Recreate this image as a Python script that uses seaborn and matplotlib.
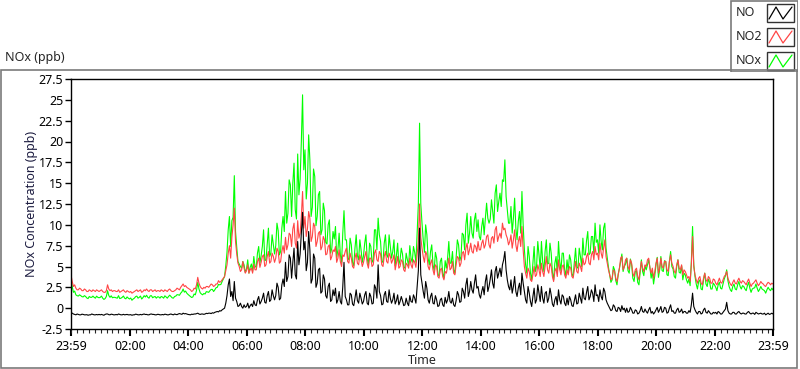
import pandas as pd
import matplotlib
matplotlib.use('Agg')
import matplotlib.pyplot as plt
import matplotlib.dates as mdates
import matplotlib.ticker as mticker
from matplotlib.patches import Rectangle
import seaborn as sns

START = '2021-03-01 23:59'
STEP = '150s'

# one row per hour (24 samples, 2.5 min apart), last value = 23:59 next day
NO = [
    -0.5, -0.6, -0.7, -0.75, -0.8, -0.7, -0.75, -0.8, -0.8, -0.72, -0.75, -0.8, -0.8, -0.78, -0.85, -0.8, -0.8, -0.7, -0.75, -0.8, -0.8, -0.76, -0.8, -0.75,
    -0.8, -0.75, -0.8, -0.85, -0.75, -0.7, -0.7, -0.78, -0.8, -0.72, -0.75, -0.8, -0.8, -0.76, -0.8, -0.7, -0.75, -0.8, -0.8, -0.74, -0.8, -0.78, -0.75, -0.8,
    -0.8, -0.78, -0.85, -0.8, -0.8, -0.72, -0.75, -0.8, -0.8, -0.75, -0.8, -0.74, -0.7, -0.76, -0.75, -0.8, -0.8, -0.72, -0.7, -0.75, -0.75, -0.8, -0.8, -0.74,
    -0.75, -0.8, -0.8, -0.76, -0.8, -0.72, -0.75, -0.8, -0.8, -0.74, -0.7, -0.76, -0.8, -0.7, -0.75, -0.78, -0.7, -0.65, -0.7, -0.74, -0.6, -0.68, -0.65, -0.7,
    -0.75, -0.78, -0.8, -0.72, -0.75, -0.7, -0.7, -0.66, -0.6, -0.7, -0.75, -0.7, -0.7, -0.74, -0.7, -0.62, -0.65, -0.6, -0.6, -0.65, -0.55, -0.6, -0.5, -0.45,
    -0.4, -0.45, -0.3, -0.35, -0.2, -0.1, 0.0, 0.6, 1.5, 2.8, 3.5, 1.4, 2.0, 0.9, 3.2, 1.2, 0.8, 0.2, 0.3, 0.6, 0.2, 0.0, 0.4, 0.1,
    0.2, 0.6, 0.0, 0.3, 0.5, 0.2, 0.9, 0.4, 0.3, 1.0, 1.4, 0.5, 0.8, 1.2, 1.8, 0.7, 0.6, 1.5, 2.0, 0.8, 1.0, 2.2, 1.5, 1.0,
    1.5, 3.0, 2.5, 1.0, 1.2, 2.8, 3.5, 2.6, 5.5, 3.2, 3.8, 6.4, 6.0, 3.6, 5.5, 7.2, 4.0, 3.5, 8.0, 5.2, 6.5, 9.0, 11.5, 7.0,
    8.0, 4.5, 5.5, 9.2, 7.0, 3.0, 3.5, 6.5, 6.0, 2.5, 3.0, 4.6, 4.8, 1.8, 2.0, 4.0, 3.5, 1.5, 1.2, 2.6, 3.0, 0.8, 1.0, 2.2,
    1.5, 2.4, 0.6, 1.0, 2.0, 0.8, 0.5, 2.6, 5.5, 1.4, 1.0, 0.4, 0.4, 1.8, 1.6, 0.5, 0.3, 1.2, 2.2, 0.9, 0.6, 1.8, 1.2, 0.5,
    0.8, 1.6, 2.0, 0.6, 0.4, 1.8, 1.4, 0.5, 0.6, 2.8, 2.4, 1.2, 5.2, 2.0, 1.5, 0.4, 0.5, 1.6, 2.0, 0.8, 0.7, 2.2, 1.2, 0.6,
    1.0, 1.8, 0.5, 0.9, 1.6, 0.4, 0.8, 1.4, 0.9, 0.3, 0.4, 1.2, 0.6, 0.3, 1.5, 0.8, 0.7, 1.6, 1.2, 0.6, 2.6, 4.5, 9.6, 4.0,
    3.0, 2.0, 1.2, 3.2, 2.4, 1.0, 0.6, 1.4, 1.8, 0.6, 0.5, 1.5, 1.0, 0.2, 0.3, 1.0, 1.2, 0.4, 0.2, 1.3, 0.6, 1.0, 2.0, 0.8,
    0.6, 1.2, 0.4, 0.2, 0.9, 2.0, 1.6, 0.7, 0.8, 2.4, 2.0, 1.2, 2.8, 3.6, 1.4, 2.0, 3.2, 2.2, 1.8, 3.0, 4.0, 2.4, 2.6, 1.6,
    1.2, 2.0, 2.6, 1.6, 3.2, 4.0, 2.0, 2.6, 3.5, 4.6, 3.0, 2.4, 4.4, 5.0, 3.6, 4.2, 4.8, 3.8, 5.2, 5.8, 6.8, 4.6, 3.4, 2.6,
    2.2, 3.4, 1.8, 2.6, 3.8, 2.0, 1.4, 2.4, 3.0, 1.6, 4.2, 3.0, 2.0, 1.0, 0.6, 2.6, 1.8, 0.8, 0.2, 1.4, 2.4, 0.6, 1.0, 2.8,
    1.8, 0.8, 2.6, 1.2, 0.6, 1.8, 2.0, 0.7, 1.2, 2.4, 1.6, 0.5, 0.2, 1.0, 1.4, 0.4, 2.2, 1.0, 0.5, 1.6, 1.4, 0.6, 0.3, 1.2,
    0.4, 1.4, 1.0, 0.3, 0.2, 0.9, 1.6, 0.5, 0.6, 1.8, 1.2, 0.6, 2.4, 1.2, 1.0, 1.9, 2.6, 1.0, 1.4, 2.2, 1.8, 0.8, 2.8, 1.5,
    1.6, 0.8, 2.2, 1.4, 1.0, 2.4, 2.0, 1.0, 0.6, 0.3, 0.0, -0.3, -0.2, 0.4, 0.2, -0.3, -0.4, 0.1, 0.0, -0.4, 0.3, -0.2, 0.0, -0.5,
    0.0, -0.5, -0.4, 0.1, -0.2, -0.6, -0.6, -0.2, -0.3, -0.7, -0.6, -0.3, 0.2, -0.4, -0.5, -0.1, -0.4, -0.6, -0.2, 0.1, -0.6, -0.4, -0.7, -0.5,
    -0.2, 0.1, -0.5, -0.2, 0.2, -0.5, -0.4, 0.1, 0.0, -0.6, -0.5, 0.0, 0.4, -0.4, -0.3, -0.6, -0.6, -0.2, 0.0, -0.5, -0.4, -0.1, -0.6, -0.4,
    -0.4, -0.6, -0.6, -0.3, -0.5, 0.4, 1.8, 0.2, -0.2, -0.5, -0.7, -0.4, -0.4, -0.7, -0.6, -0.2, 0.0, -0.5, -0.6, -0.3, -0.5, -0.7, -0.7, -0.5,
    -0.6, -0.5, -0.7, -0.4, -0.5, -0.7, -0.7, -0.5, -0.3, -0.1, 0.7, -0.3, -0.6, -0.7, -0.7, -0.5, -0.5, -0.7, -0.7, -0.5, -0.4, -0.6, -0.7, -0.6,
    -0.6, -0.7, -0.7, -0.5, -0.4, -0.6, -0.7, -0.6, -0.6, -0.75, -0.5, -0.6, -0.7, -0.65, -0.6, -0.7, -0.7, -0.6, -0.8, -0.7, -0.6, -0.75, -0.7, -0.6,
    -0.7,
]

NO2 = [
    4.0, 3.2, 2.6, 2.8, 2.4, 2.2, 2.2, 2.4, 2.3, 2.1, 2.1, 2.3, 2.2, 2.0, 2.0, 2.2, 2.1, 2.0, 2.2, 2.1, 2.0, 2.2, 2.1, 2.0,
    2.1, 2.2, 2.0, 1.9, 1.9, 2.1, 2.8, 2.3, 2.1, 2.2, 2.0, 2.1, 2.1, 2.0, 2.0, 2.2, 1.9, 2.0, 2.1, 2.2, 2.0, 1.9, 2.1, 2.0,
    1.9, 2.0, 1.8, 1.9, 2.0, 2.1, 2.2, 2.0, 2.1, 2.2, 1.9, 2.0, 2.2, 2.1, 2.3, 2.1, 2.0, 2.2, 2.2, 2.0, 2.1, 2.2, 2.0, 2.1,
    2.1, 2.0, 2.2, 2.1, 2.0, 2.2, 2.1, 2.0, 2.2, 2.3, 2.1, 2.0, 2.0, 2.1, 2.2, 2.4, 2.3, 2.2, 2.5, 2.7, 2.9, 2.6, 2.7, 2.5,
    2.4, 2.3, 2.2, 2.0, 2.1, 2.4, 2.3, 2.8, 3.7, 3.0, 2.6, 2.4, 2.3, 2.5, 2.4, 2.6, 2.6, 2.5, 2.7, 2.9, 2.8, 2.6, 2.7, 2.9,
    2.9, 3.3, 3.1, 3.2, 3.4, 3.6, 3.8, 4.5, 5.2, 6.6, 7.5, 6.0, 8.5, 10.0, 12.0, 8.0, 6.5, 5.4, 5.0, 4.4, 4.6, 5.6, 4.8, 4.2,
    4.5, 5.2, 4.2, 4.6, 4.8, 4.2, 5.3, 4.6, 4.6, 5.6, 6.0, 4.9, 5.5, 6.2, 6.4, 5.0, 5.2, 6.2, 6.8, 5.4, 5.6, 6.6, 6.2, 5.5,
    6.0, 7.2, 6.8, 5.4, 5.6, 6.8, 7.5, 6.6, 8.5, 7.0, 7.6, 9.0, 8.8, 7.4, 9.5, 10.2, 7.8, 7.2, 10.5, 8.4, 9.0, 11.0, 14.0, 9.6,
    11.0, 8.6, 9.5, 11.6, 10.8, 8.0, 8.6, 10.2, 9.8, 7.4, 8.0, 9.0, 9.2, 7.0, 7.4, 8.6, 8.2, 6.4, 6.5, 7.4, 7.6, 5.8, 6.2, 7.0,
    6.8, 7.4, 5.5, 6.0, 7.0, 5.6, 5.0, 6.4, 6.2, 6.8, 7.2, 5.6, 5.4, 6.6, 6.0, 5.0, 4.8, 6.0, 6.6, 5.4, 5.2, 6.4, 5.8, 5.0,
    5.5, 6.2, 6.8, 5.4, 4.8, 6.0, 6.0, 5.0, 5.2, 6.6, 7.0, 5.8, 5.6, 6.8, 6.5, 5.2, 5.0, 6.2, 6.8, 5.6, 5.4, 6.6, 6.2, 5.4,
    5.8, 6.4, 4.6, 5.4, 6.2, 4.8, 5.0, 5.8, 5.6, 4.6, 4.4, 5.4, 5.2, 4.8, 6.0, 5.2, 4.8, 5.8, 5.5, 4.9, 6.5, 8.0, 12.5, 8.5,
    7.2, 6.2, 5.5, 6.8, 6.4, 5.0, 4.6, 5.4, 5.8, 4.6, 4.0, 5.2, 5.0, 3.8, 3.6, 4.6, 4.8, 3.8, 3.4, 4.4, 4.2, 5.0, 6.0, 4.6,
    4.8, 5.6, 4.2, 4.0, 5.2, 6.2, 6.0, 5.0, 5.4, 6.6, 6.8, 5.8, 7.2, 7.8, 6.4, 7.0, 7.8, 6.8, 6.6, 7.6, 7.4, 6.8, 8.0, 7.0,
    7.0, 7.8, 8.2, 7.2, 7.6, 8.6, 8.8, 7.6, 7.2, 8.4, 8.6, 7.8, 9.4, 9.8, 8.0, 8.6, 9.0, 8.4, 10.2, 9.4, 9.6, 8.8, 8.4, 7.6,
    8.0, 8.8, 7.2, 8.2, 9.4, 7.6, 6.8, 8.0, 8.6, 7.4, 9.8, 7.0, 5.0, 4.2, 3.6, 4.8, 4.4, 3.4, 3.2, 4.0, 5.0, 3.8, 4.0, 5.2,
    4.6, 3.8, 5.4, 4.4, 3.8, 5.0, 6.2, 4.6, 4.2, 5.4, 5.0, 3.8, 3.2, 4.4, 4.8, 3.8, 5.8, 4.6, 4.0, 5.0, 5.2, 4.0, 3.6, 4.6,
    4.0, 5.0, 4.8, 3.8, 3.6, 4.6, 5.6, 4.4, 4.2, 5.4, 5.0, 4.4, 6.0, 5.2, 5.4, 6.2, 6.6, 5.4, 5.2, 6.4, 6.8, 5.8, 7.4, 6.4,
    6.6, 5.8, 7.8, 6.6, 6.0, 7.2, 8.2, 6.2, 5.4, 4.6, 4.0, 3.4, 3.6, 4.6, 4.4, 3.6, 3.2, 4.0, 4.8, 6.0, 6.2, 4.6, 5.0, 5.8,
    6.0, 5.0, 4.6, 5.8, 5.4, 4.2, 3.8, 4.6, 4.8, 3.8, 3.4, 4.6, 5.6, 4.8, 4.4, 5.2, 5.0, 5.8, 6.0, 4.8, 4.2, 4.8, 3.6, 4.4,
    5.4, 6.0, 4.2, 4.8, 6.0, 5.0, 4.8, 5.6, 5.6, 4.6, 4.4, 5.6, 6.4, 5.4, 5.0, 4.4, 4.2, 5.2, 5.8, 4.8, 4.6, 5.2, 4.0, 4.6,
    4.4, 4.0, 3.6, 3.8, 3.2, 5.2, 8.6, 5.0, 4.0, 3.4, 3.0, 3.6, 3.8, 3.0, 2.8, 3.6, 4.2, 3.4, 3.2, 3.8, 3.6, 3.0, 3.0, 3.5,
    3.4, 3.0, 2.8, 3.2, 3.6, 3.1, 3.0, 3.4, 3.8, 4.0, 4.4, 3.6, 3.2, 2.9, 2.7, 3.1, 3.4, 3.0, 2.9, 3.3, 3.6, 3.2, 3.0, 3.3,
    3.2, 3.0, 2.8, 3.2, 3.5, 3.0, 2.6, 2.9, 3.0, 3.2, 3.4, 3.0, 2.7, 2.9, 3.2, 3.0, 2.9, 2.7, 2.6, 2.9, 3.1, 3.0, 2.8, 3.0,
    2.9,
]

NOX = [
    3.5, 2.6, 1.9, 2.05, 1.6, 1.5, 1.45, 1.6, 1.5, 1.38, 1.35, 1.5, 1.4, 1.22, 1.15, 1.4, 1.3, 1.3, 1.45, 1.3, 1.2, 1.44, 1.3, 1.25,
    1.3, 1.45, 1.2, 1.05, 1.15, 1.4, 2.1, 1.52, 1.3, 1.48, 1.25, 1.3, 1.3, 1.24, 1.2, 1.5, 1.15, 1.2, 1.3, 1.46, 1.2, 1.12, 1.35, 1.2,
    1.1, 1.22, 0.95, 1.1, 1.2, 1.38, 1.45, 1.2, 1.3, 1.45, 1.1, 1.26, 1.5, 1.34, 1.55, 1.3, 1.2, 1.48, 1.5, 1.25, 1.35, 1.4, 1.2, 1.36,
    1.35, 1.2, 1.4, 1.34, 1.2, 1.48, 1.35, 1.2, 1.4, 1.56, 1.4, 1.24, 1.2, 1.4, 1.45, 1.62, 1.6, 1.55, 1.8, 1.96, 2.3, 1.92, 2.05, 1.8,
    1.65, 1.52, 1.4, 1.28, 1.35, 1.7, 1.6, 2.14, 3.1, 2.3, 1.85, 1.7, 1.6, 1.76, 1.7, 1.98, 1.95, 1.9, 2.1, 2.25, 2.25, 2.0, 2.2, 2.45,
    2.5, 2.85, 2.8, 2.85, 3.2, 3.5, 3.8, 5.1, 6.7, 9.4, 11.0, 7.4, 10.5, 10.9, 15.9, 9.2, 7.3, 5.6, 5.3, 5.0, 4.8, 5.6, 5.2, 4.3,
    4.7, 5.8, 4.2, 4.9, 5.3, 4.4, 6.2, 5.0, 4.9, 6.6, 7.4, 5.4, 6.3, 7.4, 9.4, 5.7, 5.8, 7.7, 9.6, 6.2, 6.6, 8.8, 7.7, 6.5,
    7.5, 10.2, 9.3, 6.4, 6.8, 9.6, 11.0, 9.2, 14.0, 10.2, 11.4, 15.4, 14.8, 11.0, 15.0, 17.4, 11.8, 10.7, 18.5, 13.6, 15.5, 20.0, 25.6, 16.6,
    19.0, 13.1, 15.0, 20.8, 17.8, 11.0, 12.1, 16.7, 15.8, 9.9, 11.0, 13.6, 14.0, 8.8, 9.4, 12.6, 11.7, 7.9, 7.7, 10.0, 10.6, 6.6, 7.2, 9.2,
    8.3, 9.8, 6.1, 7.0, 9.0, 6.4, 5.5, 9.0, 11.7, 8.2, 8.2, 6.0, 5.8, 8.4, 7.6, 5.5, 5.1, 7.2, 8.8, 6.3, 5.8, 8.2, 7.0, 5.5,
    6.3, 7.8, 8.8, 6.0, 5.2, 7.8, 7.4, 5.5, 5.8, 9.4, 9.4, 7.0, 10.8, 8.8, 8.0, 5.6, 5.5, 7.8, 8.8, 6.4, 6.1, 8.8, 7.4, 6.0,
    6.8, 8.2, 5.1, 6.3, 7.8, 5.2, 5.8, 7.2, 6.5, 4.9, 4.8, 6.6, 5.8, 5.1, 7.5, 6.0, 5.5, 7.4, 6.7, 5.5, 9.1, 12.5, 22.2, 12.5,
    10.2, 8.2, 6.7, 10.0, 8.8, 6.0, 5.2, 6.8, 7.6, 5.2, 4.5, 6.7, 6.0, 4.0, 3.9, 5.6, 6.0, 4.2, 3.6, 5.7, 4.8, 6.0, 8.0, 5.4,
    5.4, 6.8, 4.6, 4.2, 6.1, 8.2, 7.6, 5.7, 6.2, 9.0, 8.8, 7.0, 10.0, 11.4, 7.8, 9.0, 11.0, 9.0, 8.4, 10.6, 11.4, 9.2, 10.6, 8.6,
    8.2, 9.8, 10.8, 8.8, 10.8, 12.6, 10.8, 10.2, 10.7, 13.0, 11.6, 10.2, 13.8, 14.8, 11.6, 12.8, 13.8, 12.2, 15.4, 15.2, 17.8, 13.4, 11.8, 10.2,
    10.2, 12.2, 9.0, 10.8, 13.2, 9.6, 8.2, 10.4, 11.6, 9.0, 14.0, 10.0, 7.0, 5.2, 4.2, 7.4, 6.2, 4.2, 3.4, 5.4, 7.4, 4.4, 5.0, 8.0,
    6.4, 4.6, 8.0, 5.6, 4.4, 6.8, 8.2, 5.3, 5.4, 7.8, 6.6, 4.3, 3.4, 5.4, 6.2, 4.2, 8.0, 5.6, 4.5, 6.6, 6.6, 4.6, 3.9, 5.8,
    4.4, 6.4, 5.8, 4.1, 3.8, 5.5, 7.2, 4.9, 4.8, 7.2, 6.2, 5.0, 8.4, 6.4, 6.4, 8.1, 9.2, 6.4, 6.6, 8.6, 8.6, 6.6, 10.2, 7.9,
    8.2, 6.6, 10.0, 8.0, 7.0, 9.6, 10.2, 7.2, 6.0, 4.9, 4.0, 3.1, 3.4, 5.0, 4.6, 3.3, 2.8, 4.1, 4.8, 5.6, 6.5, 4.4, 5.0, 5.3,
    6.0, 4.5, 4.2, 5.9, 5.2, 3.6, 3.2, 4.4, 4.5, 3.1, 2.8, 4.3, 5.8, 4.4, 3.9, 5.1, 4.6, 5.2, 5.8, 4.9, 3.6, 4.4, 2.9, 3.9,
    5.2, 6.1, 3.7, 4.6, 6.2, 4.5, 4.4, 5.7, 5.6, 4.0, 3.9, 5.6, 6.8, 5.0, 4.7, 3.8, 3.6, 5.0, 5.8, 4.3, 4.2, 5.1, 3.4, 4.2,
    4.0, 3.4, 3.0, 3.5, 2.7, 5.6, 9.8, 5.2, 3.8, 2.9, 2.3, 3.2, 3.4, 2.3, 2.2, 3.4, 4.2, 2.9, 2.6, 3.5, 3.1, 2.3, 2.3, 3.0,
    2.8, 2.5, 2.1, 2.8, 3.1, 2.4, 2.3, 2.9, 3.5, 3.9, 4.6, 3.3, 2.6, 2.2, 2.0, 2.6, 2.9, 2.3, 2.2, 2.8, 3.2, 2.6, 2.3, 2.7,
    2.6, 2.3, 2.1, 2.7, 3.1, 2.4, 1.9, 2.3, 2.4, 2.45, 2.9, 2.4, 2.0, 2.25, 2.6, 2.3, 2.2, 2.1, 1.8, 2.2, 2.5, 2.25, 2.1, 2.4,
    2.2,
]

TICK_HOURS = ['02:00', '04:00', '06:00', '08:00', '10:00', '12:00',
              '14:00', '16:00', '18:00', '20:00', '22:00']
Y_TICKS = [-2.5, 0, 2.5, 5, 7.5, 10, 12.5, 15, 17.5, 20, 22.5, 25, 27.5]

SERIES = [('NO', 'black'), ('NO2', '#ff4545'), ('NOx', '#00ff00')]


def build_frame():
    times = pd.date_range(START, periods=len(NO), freq=STEP)
    return pd.DataFrame({'time': times, 'NO': NO, 'NO2': NO2, 'NOx': NOX})


def draw_legend(fig):
    lax = fig.add_axes([730 / 800, 1 - 72 / 369, 68 / 800, 72 / 369])
    lax.set_xlim(0, 68)
    lax.set_ylim(72, 0)
    lax.axis('off')
    lax.add_patch(Rectangle((0.5, 0.5), 67, 71, facecolor='white',
                            edgecolor='#7a7a7a', lw=1.2))
    for i, (name, color) in enumerate(SERIES):
        yc = 13 + i * 24
        lax.text(6, yc, name, va='center', ha='left', fontsize=9)
        lax.add_patch(Rectangle((37, yc - 9), 27, 18, facecolor='white',
                                edgecolor='#333333', lw=1))
        lax.plot([39, 46, 53, 62], [yc + 6, yc - 6, yc + 6, yc - 6],
                 color=color, lw=0.9)


def main():
    sns.set_style('white')
    plt.rcParams['font.family'] = ['Noto Sans', 'DejaVu Sans']

    df = build_frame()

    fig = plt.figure(figsize=(8, 3.69), dpi=100)
    ax = fig.add_axes([71 / 800, 40 / 369, 702 / 800, 250 / 369])

    # green under red under black, like the original
    for name, color in reversed(SERIES):
        sns.lineplot(data=df, x='time', y=name, color=color, lw=0.8,
                     estimator=None, ax=ax, legend=False)

    day = df['time'].iloc[0].normalize() + pd.Timedelta(days=1)
    majors = [df['time'].iloc[0]] + [day + pd.Timedelta(t + ':00') for t in TICK_HOURS] \
        + [df['time'].iloc[-1]]
    ax.set_xlim(df['time'].iloc[0], df['time'].iloc[-1])
    ax.xaxis.set_major_locator(mticker.FixedLocator(mdates.date2num(majors)))
    ax.xaxis.set_major_formatter(mdates.DateFormatter('%H:%M'))
    ax.xaxis.set_minor_locator(mdates.MinuteLocator(byminute=[0, 12, 24, 36, 48]))

    ax.set_ylim(-2.5, 27.5)
    ax.yaxis.set_major_locator(mticker.FixedLocator(Y_TICKS))
    ax.yaxis.set_major_formatter(mticker.FuncFormatter(lambda v, p: f'{v:g}'))

    ax.tick_params(axis='both', which='major', direction='out', length=4,
                   width=1, labelsize=9, colors='black', left=True, bottom=True)
    ax.tick_params(axis='y', which='major', pad=1.5)
    ax.tick_params(axis='x', which='minor', direction='out', length=3,
                   width=0.8, bottom=True)
    ax.tick_params(axis='x', which='major', length=5, width=1.5, pad=3)

    for side in ['left', 'bottom', 'top', 'right']:
        ax.spines[side].set_visible(True)
        ax.spines[side].set_color('black')
        ax.spines[side].set_linewidth(1)

    ax.set_xlabel('Time', fontsize=9)
    ax.xaxis.label.set_va('center')
    ax.xaxis.set_label_coords(0.5, -0.124)
    ax.set_ylabel('NOx Concentration (ppb)', fontsize=9, color='#1c1c40')
    ax.yaxis.label.set_va('center')
    ax.yaxis.set_label_coords(-0.056, 0.5)

    # outer chart frame and caption
    fig.add_artist(Rectangle((0.6 / 800, 1.5 / 369), 796.5 / 800, 298 / 369,
                             transform=fig.transFigure, fill=False,
                             edgecolor='#7a7a7a', lw=1.2))
    fig.text(5 / 800, 1 - 58 / 369, 'NOx (ppb)', fontsize=9, va='center', ha='left')

    draw_legend(fig)

    fig.savefig('out.png', dpi=100)


if __name__ == '__main__':
    main()
